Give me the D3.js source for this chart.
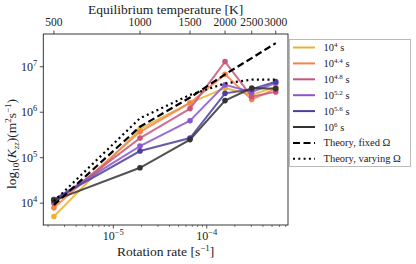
<!DOCTYPE html>
<html>
<head>
<meta charset="utf-8">
<script src="https://cdn.jsdelivr.net/npm/d3@7"></script>
<style>
  body { margin: 0; background: #fff; }
</style>
</head>
<body>
<svg id="chart" width="416" height="264"></svg>
<script>
// rotation rates (s^-1) and matching equilibrium temperatures (K)
const rotation = [2.31e-6, 1.93e-5, 6.62e-5, 1.57e-4, 3.03e-4, 5.48e-4];
const temps = [500, 1000, 1500, 2000, 2500, 3000];

// Kzz values per time snapshot
const k_1e4   = [5.1e3, 4.3e5, 1.6e6, 3.4e6, 2.4e6, 3.6e6];
const k_1e4_4 = [7.9e3, 3.7e5, 1.6e6, 6.8e6, 1.9e6, 3.3e6];
const k_1e4_8 = [1.0e4, 2.7e5, 1.2e6, 1.3e7, 2.2e6, 2.8e6];
const k_1e5_2 = [1.2e4, 1.8e5, 6.5e5, 4.0e6, 2.8e6, 4.4e6];
const k_1e5_6 = [1.2e4, 1.4e5, 2.7e5, 2.6e6, 3.2e6, 4.7e6];
const k_1e6   = [1.15e4, 6.0e4, 2.5e5, 1.8e6, 3.4e6, 3.3e6];

// theory curves
const theoryFixed = [9.1e3, 4.8e5, 2.1e6, 6.8e6, 1.55e7, 3.3e7];
const theoryVarying = [1.1e4, 7.4e5, 2.4e6, 4.3e6, 5.2e6, 5.2e6];

const seriesExp = ["4", "4.4", "4.8", "5.2", "5.6", "6"];
const seriesVals = [k_1e4, k_1e4_4, k_1e4_8, k_1e5_2, k_1e5_6, k_1e6];
const colors = ["#e9b234", "#f7834a", "#c8567a", "#8b55cc", "#4a3f9e", "#333333"];

const serif = "'Liberation Serif', 'Times New Roman', 'DejaVu Serif', serif";
const svg = d3.select("#chart").attr("font-family", serif);
const pLeft = 43.3, pRight = 288, pTop = 34, pBottom = 225;

const x = d3.scaleLog().domain([Math.pow(10, -5.75), Math.pow(10, -3.13)]).range([pLeft, pRight]);
const y = d3.scaleLog().domain([Math.pow(10, 3.52), Math.pow(10, 7.72)]).range([pBottom, pTop]);

// frame
svg.append("rect")
  .attr("x", pLeft).attr("y", pTop)
  .attr("width", pRight - pLeft).attr("height", pBottom - pTop)
  .attr("fill", "none").attr("stroke", "#222").attr("stroke-width", 0.9);

const plot = svg.append("g");

const line = d3.line().x((d, i) => x(rotation[i])).y(d => y(d));

// experimental series
seriesVals.forEach((vals, s) => {
  plot.append("path")
    .attr("d", line(vals))
    .attr("fill", "none")
    .attr("stroke", colors[s])
    .attr("stroke-width", 2)
    .attr("stroke-opacity", 0.85);
  plot.selectAll(null)
    .data(vals)
    .enter()
    .append("circle")
    .attr("cx", (d, i) => x(rotation[i]))
    .attr("cy", d => y(d))
    .attr("r", 2.8)
    .attr("fill", colors[s]);
});

// theory
plot.append("path")
  .attr("d", line(theoryFixed))
  .attr("fill", "none").attr("stroke", "#000")
  .attr("stroke-width", 2.2).attr("stroke-dasharray", "7,3.5");
plot.append("path")
  .attr("d", line(theoryVarying))
  .attr("fill", "none").attr("stroke", "#000")
  .attr("stroke-width", 2.2).attr("stroke-dasharray", "2,3.3");

function txt(parent) {
  return parent.append("text").attr("font-family", serif).attr("fill", "#222");
}

// bottom axis ticks
const majorX = [1e-5, 1e-4];
const minorX = [];
[1e-6, 1e-5, 1e-4].forEach(b => { for (let m = 2; m <= 9; m++) minorX.push(b * m); });
minorX.filter(v => x(v) >= pLeft && x(v) <= pRight).forEach(v => {
  svg.append("line").attr("x1", x(v)).attr("x2", x(v)).attr("y1", pBottom).attr("y2", pBottom + 2)
    .attr("stroke", "#222").attr("stroke-width", 0.6);
});
majorX.forEach((v, i) => {
  svg.append("line").attr("x1", x(v)).attr("x2", x(v)).attr("y1", pBottom).attr("y2", pBottom + 3.5)
    .attr("stroke", "#222").attr("stroke-width", 0.8);
  const t = txt(svg).attr("x", x(v)).attr("y", pBottom + 15)
    .attr("text-anchor", "middle").attr("font-size", 12);
  t.append("tspan").text("10");
  t.append("tspan").attr("dy", -5).attr("font-size", 8.5).text(i === 0 ? "−5" : "−4");
});

// left axis ticks
[1e4, 1e5, 1e6, 1e7].forEach((v, i) => {
  svg.append("line").attr("x1", pLeft - 3.5).attr("x2", pLeft).attr("y1", y(v)).attr("y2", y(v))
    .attr("stroke", "#222").attr("stroke-width", 0.8);
  const t = txt(svg).attr("x", pLeft - 6).attr("y", y(v) + 4)
    .attr("text-anchor", "end").attr("font-size", 12);
  t.append("tspan").text("10");
  t.append("tspan").attr("dy", -5).attr("font-size", 8.5).text(String(i + 4));
});

// top axis: equilibrium temperature
rotation.forEach((r, i) => {
  svg.append("line").attr("x1", x(r)).attr("x2", x(r)).attr("y1", pTop).attr("y2", pTop - 3.5)
    .attr("stroke", "#222").attr("stroke-width", 0.8);
  txt(svg).attr("x", x(r)).attr("y", pTop - 8)
    .attr("text-anchor", "middle").attr("font-size", 11.5).text(temps[i]);
});

txt(svg).attr("x", (pLeft + pRight) / 2).attr("y", 14)
  .attr("text-anchor", "middle").attr("font-size", 13.5).text("Equilibrium temperature [K]");

const xl = txt(svg).attr("x", (pLeft + pRight) / 2).attr("y", 256)
  .attr("text-anchor", "middle").attr("font-size", 13.5);
xl.append("tspan").text("Rotation rate [s");
xl.append("tspan").attr("dy", -5).attr("font-size", 9).text("−1");
xl.append("tspan").attr("dy", 5).text("]");

// y label
const yl = txt(svg)
  .attr("transform", "translate(16,144) rotate(-90)")
  .attr("text-anchor", "middle").attr("font-size", 13.5);
yl.append("tspan").text("log");
yl.append("tspan").attr("dy", 3).attr("font-size", 9).text("10");
yl.append("tspan").attr("dy", -3).text("(");
yl.append("tspan").attr("font-style", "italic").text("K");
yl.append("tspan").attr("dy", 3).attr("font-size", 9).attr("font-style", "italic").text("zz");
yl.append("tspan").attr("dy", -3).text(")(m");
yl.append("tspan").attr("dy", -5).attr("font-size", 9).text("2");
yl.append("tspan").attr("dy", 5).text("s");
yl.append("tspan").attr("dy", -5).attr("font-size", 9).text("−1");
yl.append("tspan").attr("dy", 5).text(")");

// legend
const lg = svg.append("g").attr("transform", "translate(289.5,39.5)");
lg.append("rect").attr("width", 121).attr("height", 127)
  .attr("fill", "#fff").attr("stroke", "#bbb").attr("stroke-width", 1);
const rowY = i => 8 + i * 15.9;
seriesExp.forEach((e, i) => {
  lg.append("line").attr("x1", 3.5).attr("x2", 25.5).attr("y1", rowY(i)).attr("y2", rowY(i))
    .attr("stroke", colors[i]).attr("stroke-width", 2);
  const t = txt(lg).attr("x", 34).attr("y", rowY(i) + 3.5).attr("font-size", 10.5);
  t.append("tspan").text("10");
  t.append("tspan").attr("dy", -4).attr("font-size", 7).text(e);
  t.append("tspan").attr("dy", 4).text(" s");
});
lg.append("line").attr("x1", 3.5).attr("x2", 25.5).attr("y1", rowY(6)).attr("y2", rowY(6))
  .attr("stroke", "#000").attr("stroke-width", 2).attr("stroke-dasharray", "7,3.5");
txt(lg).attr("x", 34).attr("y", rowY(6) + 3.5).attr("font-size", 10.5).text("Theory, fixed Ω");
lg.append("line").attr("x1", 3.5).attr("x2", 25.5).attr("y1", rowY(7)).attr("y2", rowY(7))
  .attr("stroke", "#000").attr("stroke-width", 2).attr("stroke-dasharray", "2,3.3");
txt(lg).attr("x", 34).attr("y", rowY(7) + 3.5).attr("font-size", 10.5).text("Theory, varying Ω");
</script>
</body>
</html>
